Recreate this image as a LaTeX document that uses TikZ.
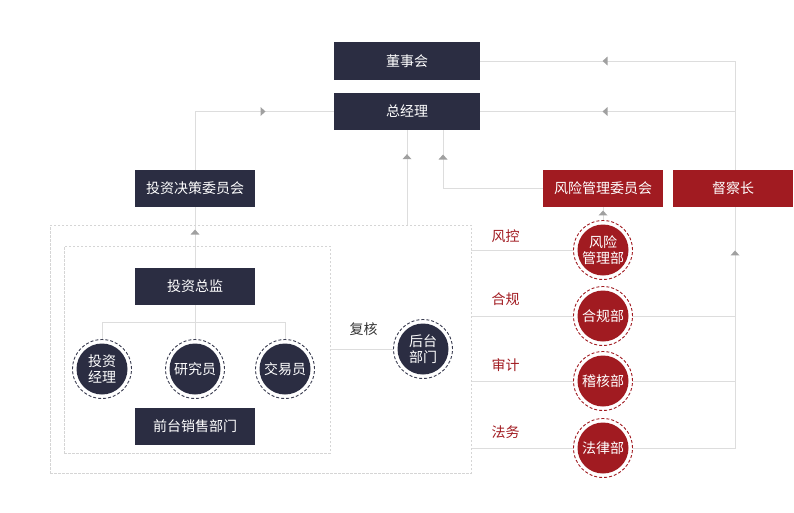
\documentclass[tikz,border=0pt]{standalone}
\usepackage{fontspec}
\newfontfamily\cjk{Noto Sans CJK SC}
\usetikzlibrary{backgrounds}
\definecolor{navy}{HTML}{2B2D42}
\definecolor{ringnavy}{HTML}{3A3C50}
\definecolor{darkred}{HTML}{A11B21}
\definecolor{linec}{HTML}{DDDDDD}
\definecolor{arrowc}{HTML}{A0A0A0}
\definecolor{dashc}{HTML}{D5D5D5}
\begin{document}
\begin{tikzpicture}[x=1pt,y=-1pt,
  box/.style={rectangle, fill=#1, text=white, minimum width=120pt, minimum height=37pt,
    inner sep=0pt, font=\cjk\fontsize{14}{16}\selectfont},
  circ/.style 2 args={circle, minimum size=59pt, inner sep=0pt, fill=white, draw=#2,
    line width=0.9pt, dash pattern=on 3pt off 2pt, text=white, align=center,
    font=\cjk\fontsize{14}{16}\selectfont,
    path picture={\fill[#1] (path picture bounding box.center) circle (25.5pt);}},
  dbox/.style={rectangle, draw=dashc, line width=0.7pt, dash pattern=on 2.5pt off 1.5pt, inner sep=0pt},
  conn/.style={draw=linec, line width=0.8pt},
  lab/.style={font=\cjk\fontsize{14}{16}\selectfont, text=#1, inner sep=0pt},
  uptri/.pic={\fill[arrowc] (-4.5,2.5) -- (4.5,2.5) -- (0,-2.5) -- cycle;},
  lefttri/.pic={\fill[arrowc] (2.5,-4.5) -- (2.5,4.5) -- (-2.5,0) -- cycle;},
  righttri/.pic={\fill[arrowc] (-2.5,-4.5) -- (-2.5,4.5) -- (2.5,0) -- cycle;}
]
\useasboundingbox (0,0) rectangle (794,512);

% dashed frames
\node[dbox, minimum width=421pt, minimum height=248pt] (outer) at (260.5,349) {};
\node[dbox, minimum width=266pt, minimum height=207pt] (inner) at (197,349.5) {};

% boxes
\node[box=navy, minimum width=146pt, minimum height=38pt] (dong) at (407,61) {董事会};
\node[box=navy, minimum width=146pt, minimum height=37pt] (zjl) at (407,111.5) {总经理};
\node[box=navy] (tzjc) at (195,188.5) {投资决策委员会};
\node[box=darkred] (fxwy) at (603,188.5) {风险管理委员会};
\node[box=darkred] (dcz) at (733,188.5) {督察长};
\node[box=navy] (tzzj) at (195,286.5) {投资总监};
\node[box=navy] (qt) at (195,426.5) {前台销售部门};

% dark circles
\node[circ={navy}{ringnavy}] (c1) at (102,369) {投资\\经理};
\node[circ={navy}{ringnavy}] (c2) at (195,369) {研究员};
\node[circ={navy}{ringnavy}] (c3) at (285,369) {交易员};
\node[circ={navy}{ringnavy}] (ht) at (423,349) {后台\\部门};

% red circles
\node[circ={darkred}{darkred}] (r1) at (603,250) {风险\\管理部};
\node[circ={darkred}{darkred}] (r2) at (603,316) {合规部};
\node[circ={darkred}{darkred}] (r3) at (603,381) {稽核部};
\node[circ={darkred}{darkred}] (r4) at (603,448) {法律部};

% labels
\node[lab=darkred] (l1) at (505.5,236) {风控};
\node[lab=darkred] (l2) at (505.5,299) {合规};
\node[lab=darkred] (l3) at (505.5,365.5) {审计};
\node[lab=darkred] (l4) at (505.5,432) {法务};
\node[lab={black!80}] (fh) at (363.5,329.5) {复核};

\coordinate (top) at (735,61);
\coordinate (corner) at (735,448);
\coordinate (bar) at (195,322);

\begin{pgfonlayer}{background}
  % right supervision line
  \draw[conn] (outer.east |- r4) -- (corner) -- pic[pos=0.504]{uptri} (top) -- pic[pos=0.51]{lefttri} (dong.east);
  \draw[conn] (top |- zjl.east) -- pic[pos=0.51]{lefttri} (zjl.east);
  \draw[conn] (outer.east |- r3) -- (corner |- r3);
  \draw[conn] (outer.east |- r2) -- (corner |- r2);
  \draw[conn] (outer.east |- r1) -- (r1.west);
  % risk committee
  \draw[conn] (r1.north) -- pic[pos=0.55]{uptri} (fxwy.south);
  \draw[conn] (fxwy.west) -- ([xshift=36pt]zjl.south |- fxwy.west) -- pic[pos=0.54]{uptri} ([xshift=36pt]zjl.south);
  % outer frame to general manager
  \draw[conn] (zjl.south |- outer.north) -- pic[pos=0.72]{uptri} (zjl.south);
  % general manager to investment committee
  \draw[conn] (zjl.west) -- pic[pos=0.51]{righttri} (tzjc.north |- zjl.west) -- (tzjc.north);
  \draw[conn] (tzzj.north) -- pic[pos=0.59]{uptri} (tzjc.south);
  % investment director tree
  \draw[conn] (tzzj.south) -- (c2.north);
  \draw[conn] (c1.north) -- (c1.north |- bar) -- (c3.north |- bar) -- (c3.north);
  % back office
  \draw[conn] (inner.east |- ht) -- (ht.west);
\end{pgfonlayer}
\end{tikzpicture}
\end{document}
